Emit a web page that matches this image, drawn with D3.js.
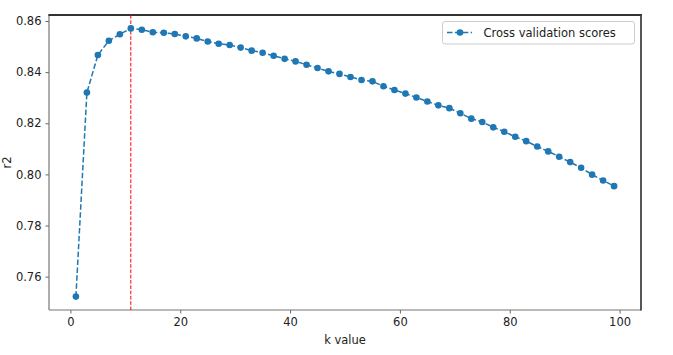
<!DOCTYPE html>
<html>
<head>
<meta charset="utf-8">
<script src="https://cdn.jsdelivr.net/npm/d3@7/dist/d3.min.js"></script>
<style>
  html, body { margin: 0; padding: 0; background: #fff; }
  svg { display: block; font-family: "DejaVu Sans", sans-serif; }
</style>
</head>
<body>
<svg id="chart" width="673" height="355"></svg>
<script>
const kValues = [1,3,5,7,9,11,13,15,17,19,21,23,25,27,29,31,33,35,37,39,41,43,45,47,49,51,53,55,57,59,61,63,65,67,69,71,73,75,77,79,81,83,85,87,89,91,93,95,97,99];
const scores = [0.7522,0.8320,0.8467,0.8523,0.8548,0.8571,0.8566,0.8556,0.8554,0.8549,0.8540,0.8532,0.8520,0.8511,0.8506,0.8496,0.8484,0.8476,0.8464,0.8452,0.8442,0.8429,0.8416,0.8403,0.8393,0.8381,0.8369,0.8364,0.8345,0.8330,0.8316,0.8301,0.8285,0.8270,0.8259,0.8239,0.8218,0.8205,0.8184,0.8167,0.8147,0.8130,0.8109,0.8090,0.8069,0.8048,0.8026,0.7999,0.7976,0.7954];
const bestK = 11;
const xTicks = [0,20,40,60,80,100];
const yTicks = [0.76,0.78,0.80,0.82,0.84,0.86];
const seriesName = "Cross validation scores";
const xLabel = "k value";
const yLabel = "r2";

const svg = d3.select("#chart");
const L = 49, R = 641, T = 15, B = 310;
const blue = "#1f77b4";

const xMin = d3.min(kValues), xMax = d3.max(kValues);
const xPad = (xMax - xMin) * 0.05;
const yMin = d3.min(scores), yMax = d3.max(scores);
const yPad = (yMax - yMin) * 0.05;

const x = d3.scaleLinear().domain([xMin - xPad, xMax + xPad]).range([L, R]);
const y = d3.scaleLinear().domain([yMin - yPad, yMax + yPad]).range([B, T]);

const data = kValues.map((k, i) => ({k, v: scores[i]}));

// axes
const xAxis = svg.append("g").attr("transform", `translate(0,${B})`)
  .call(d3.axisBottom(x).tickValues(xTicks).tickFormat(d3.format("d")).tickSize(3.5).tickPadding(4));
const yAxis = svg.append("g").attr("transform", `translate(${L},0)`)
  .call(d3.axisLeft(y).tickValues(yTicks).tickFormat(d3.format(".2f")).tickSize(3.5).tickPadding(4));
[xAxis, yAxis].forEach(a => {
  a.select(".domain").remove();
  a.selectAll(".tick line").attr("stroke", "#555").attr("stroke-width", 0.9);
  a.selectAll(".tick text").attr("fill", "#222").style("font-size", "11.5px").style("font-family", "DejaVu Sans");
});

// spines
svg.append("line").attr("x1", L).attr("x2", L).attr("y1", T).attr("y2", B).attr("stroke", "#777").attr("stroke-width", 1.2);
svg.append("line").attr("x1", L).attr("x2", R).attr("y1", B).attr("y2", B).attr("stroke", "#777").attr("stroke-width", 1.2);
svg.append("line").attr("x1", L - 0.6).attr("x2", R + 1).attr("y1", T).attr("y2", T).attr("stroke", "#333").attr("stroke-width", 2);
svg.append("line").attr("x1", R).attr("x2", R).attr("y1", T).attr("y2", B + 0.6).attr("stroke", "#444").attr("stroke-width", 1.8);

// best k line
svg.append("line")
  .attr("x1", x(bestK)).attr("x2", x(bestK)).attr("y1", T).attr("y2", B)
  .attr("stroke", "red").attr("stroke-width", 1).attr("stroke-dasharray", "3.7,1.6");

// series line
const line = d3.line().x(d => x(d.k)).y(d => y(d.v));
svg.append("path").datum(data)
  .attr("d", line).attr("fill", "none").attr("stroke", blue)
  .attr("stroke-width", 1.5).attr("stroke-dasharray", "5.5,2.4");

svg.append("g").selectAll("circle").data(data).join("circle")
  .attr("cx", d => x(d.k)).attr("cy", d => y(d.v)).attr("r", 3.3).attr("fill", blue);

// axis labels
svg.append("text").attr("x", (L + R) / 2).attr("y", 344).attr("text-anchor", "middle")
  .style("font-size", "11.5px").attr("fill", "#222").text(xLabel);
svg.append("text").attr("transform", `translate(11,${(T + B) / 2}) rotate(-90)`).attr("text-anchor", "middle")
  .style("font-size", "11.5px").attr("fill", "#222").text(yLabel);

// legend
const lg = svg.append("g");
lg.append("rect").attr("x", 442.5).attr("y", 21.5).attr("width", 192).attr("height", 22.5)
  .attr("rx", 2.5).attr("fill", "#fff").attr("fill-opacity", 0.8).attr("stroke", "#ccc").attr("stroke-width", 1);
lg.append("line").attr("x1", 447).attr("x2", 472).attr("y1", 32.5).attr("y2", 32.5)
  .attr("stroke", blue).attr("stroke-width", 1.5).attr("stroke-dasharray", "5.5,2.4");
lg.append("circle").attr("cx", 460).attr("cy", 32.5).attr("r", 3.3).attr("fill", blue);
lg.append("text").attr("x", 483.5).attr("y", 36.8).style("font-size", "11.5px").attr("fill", "#222").text(seriesName);
</script>
</body>
</html>
